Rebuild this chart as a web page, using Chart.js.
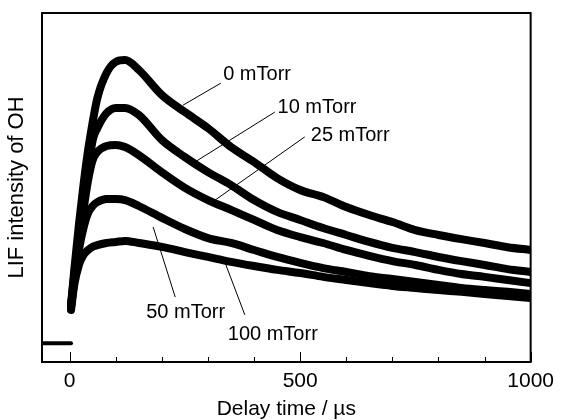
<!DOCTYPE html>
<html>
<head>
<meta charset="utf-8">
<script src="https://cdn.jsdelivr.net/npm/chart.js@4"></script>
<style>
  html, body { margin: 0; padding: 0; background: #fff; }
  #wrap { width: 561px; height: 420px; }
</style>
</head>
<body>
<div id="wrap"><canvas id="lifChart" width="561" height="420"></canvas></div>
<script>
// delay time (us) of the sampled points, shared by every trace
const delayTimes = [3, 10, 20, 30, 40, 50, 60, 80, 100, 120, 150, 200, 250, 300, 350, 400, 450, 500, 550, 600, 650, 700, 750, 800, 850, 900, 950, 1000];

// LIF signal (arb. units, 0-100)
const oh0mTorr   = [16.3, 26.4, 39.3, 50.7, 60.7, 68.8, 75.6, 82.8, 86.0, 86.5, 83.7, 76.5, 71.6, 67.0, 61.6, 57.3, 52.7, 49.3, 47.3, 44.4, 42.1, 40.1, 37.8, 36.4, 35.2, 34.1, 32.9, 32.1];
const oh10mTorr  = [16.3, 24.9, 36.4, 46.4, 55.0, 63.6, 67.0, 71.3, 72.8, 72.8, 70.8, 63.6, 58.7, 54.4, 50.7, 46.4, 43.0, 40.7, 38.4, 36.4, 34.4, 32.7, 31.5, 30.1, 28.9, 27.8, 26.6, 25.8];
const oh25mTorr  = [16.3, 23.5, 33.5, 43.6, 52.1, 57.9, 60.2, 61.9, 62.2, 61.6, 59.3, 54.4, 49.9, 46.4, 43.6, 40.7, 37.8, 35.8, 34.1, 32.1, 30.4, 28.9, 27.8, 26.4, 25.2, 24.4, 23.5, 22.6];
const oh50mTorr  = [15.5, 23.5, 32.1, 38.4, 42.7, 44.7, 45.8, 46.7, 46.7, 46.4, 44.7, 41.3, 38.1, 35.5, 34.1, 32.1, 30.1, 28.4, 26.9, 25.8, 24.6, 23.8, 22.9, 22.1, 21.2, 20.6, 20.1, 19.5];
const oh100mTorr = [14.9, 22.1, 27.8, 30.7, 32.1, 33.0, 33.5, 34.1, 34.4, 34.7, 34.1, 33.0, 31.5, 30.1, 28.7, 27.5, 26.4, 25.5, 24.4, 23.5, 22.6, 21.8, 21.2, 20.6, 20.1, 19.5, 18.9, 18.3];

// pre-trigger baseline
const baseTimes = [-60, -40, -20, 0, 3];
const baseSignal = [5.4, 5.4, 5.4, 5.4, 5.4];

// x axis ticks, labelled ones
const xTickValues = [0, 100, 200, 300, 400, 500, 600, 700, 800, 900, 1000];
const xLabelValues = [0, 500, 1000];

// curve labels: text, text anchor (t, signal), leader from (t, signal) to (t, signal)
const curveNames  = ['0 mTorr', '10 mTorr', '25 mTorr', '50 mTorr', '100 mTorr'];
const labelT      = [333, 451, 523, 166, 343];
const labelV      = [82.5, 72.8, 64.8, 14.3, 8.0];
const leaderFromT = [328, 445, 510, 181, 339];
const leaderFromV = [79.9, 71.6, 64.5, 38.7, 27.8];
const leaderToT   = [246, 268, 307, 229, 380];
const leaderToV   = [73.6, 57.0, 45.6, 18.6, 13.5];

const FONT = '"Liberation Sans", Arial, Helvetica, sans-serif';

function toPoints(xs, ys) { return xs.map((x, i) => ({ x: x, y: ys[i] })); }

function traceSet(ys) {
    return {
        data: toPoints(delayTimes, ys), showLine: true, borderColor: '#000', backgroundColor: '#000',
        borderWidth: 8, pointRadius: 0, cubicInterpolationMode: 'monotone', borderCapStyle: 'round', borderJoinStyle: 'round'
    };
}

// frame + inward ticks
const framePlugin = {
    id: 'frame',
    afterDraw(chart) {
        const { ctx, chartArea: a, scales: { x } } = chart;
        ctx.save();
        ctx.strokeStyle = '#000';
        ctx.lineWidth = 1;
        xTickValues.forEach(v => {
            const px = Math.round(x.getPixelForValue(v)) + 0.5;
            const len = xLabelValues.includes(v) ? 10 : 5;
            ctx.beginPath(); ctx.moveTo(px, a.bottom); ctx.lineTo(px, a.bottom - len); ctx.stroke();
        });
        ctx.lineWidth = 2;
        ctx.strokeRect(a.left, a.top, a.right - a.left, a.bottom - a.top);
        ctx.restore();
    }
};

// curve names with leader lines
const labelPlugin = {
    id: 'curveLabels',
    afterDraw(chart) {
        const { ctx, scales: { x, y } } = chart;
        ctx.save();
        ctx.strokeStyle = '#000'; ctx.fillStyle = '#000'; ctx.lineWidth = 1;
        ctx.font = '20px ' + FONT;
        ctx.textAlign = 'left'; ctx.textBaseline = 'middle';
        curveNames.forEach((name, i) => {
            ctx.beginPath();
            ctx.moveTo(x.getPixelForValue(leaderFromT[i]), y.getPixelForValue(leaderFromV[i]));
            ctx.lineTo(x.getPixelForValue(leaderToT[i]), y.getPixelForValue(leaderToV[i]));
            ctx.stroke();
            ctx.fillText(name, x.getPixelForValue(labelT[i]), y.getPixelForValue(labelV[i]));
        });
        ctx.restore();
    }
};

new Chart(document.getElementById('lifChart').getContext('2d'), {
    type: 'scatter',
    data: {
        datasets: [
            traceSet(oh0mTorr), traceSet(oh10mTorr), traceSet(oh25mTorr), traceSet(oh50mTorr), traceSet(oh100mTorr),
            { data: toPoints(baseTimes, baseSignal), showLine: true, borderColor: '#000', borderWidth: 4, pointRadius: 0, borderCapStyle: 'round' }
        ]
    },
    options: {
        responsive: false, animation: false, devicePixelRatio: 1,
        layout: { padding: { top: 13, right: 27, left: 0, bottom: 0 } },
        plugins: { legend: { display: false }, tooltip: { enabled: false } },
        scales: {
            x: {
                type: 'linear', min: -60, max: 1000,
                grid: { display: false, drawTicks: false }, border: { display: false },
                afterBuildTicks: s => { s.ticks = xTickValues.map(v => ({ value: v })); },
                afterFit: s => { s.height = 58; },
                ticks: {
                    autoSkip: false, maxRotation: 0, padding: 7, color: '#000',
                    font: { family: FONT, size: 21 },
                    callback: v => xLabelValues.includes(v) ? String(v) : ''
                },
                title: { display: true, text: 'Delay time / \u00b5s', color: '#000', font: { family: FONT, size: 21, lineHeight: 1.0 }, padding: 0 }
            },
            y: {
                min: 0, max: 100,
                grid: { display: false, drawTicks: false }, border: { display: false },
                ticks: { display: false },
                afterFit: s => { s.width = 42; },
                title: { display: true, text: 'LIF intensity of OH', color: '#000', font: { family: FONT, size: 22, lineHeight: 1.0 }, padding: { top: 6, bottom: 0 } }
            }
        }
    },
    plugins: [framePlugin, labelPlugin]
});
</script>
</body>
</html>
